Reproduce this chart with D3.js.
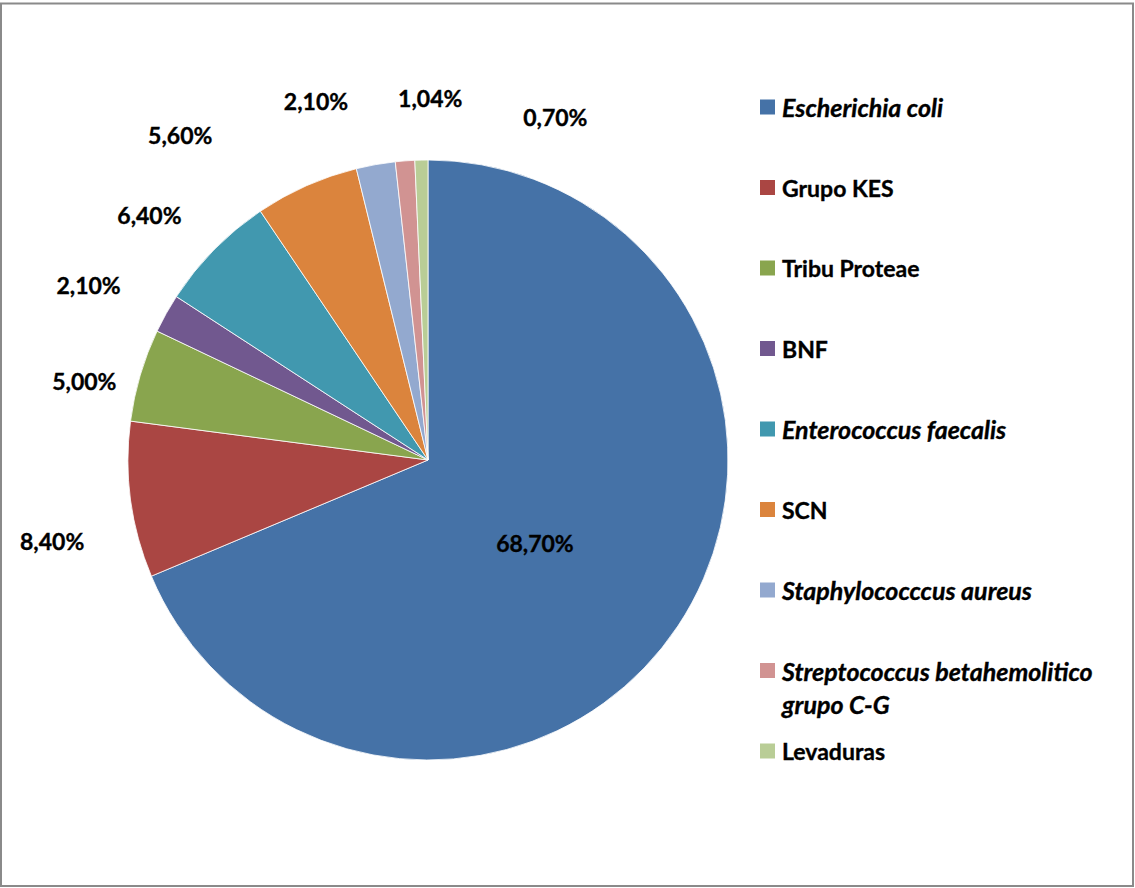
<!DOCTYPE html>
<html>
<head>
<meta charset="utf-8">
<script src="https://cdn.jsdelivr.net/npm/d3@7"></script>
<style>
  html, body { margin: 0; padding: 0; background: #fff; }
  svg { display: block; font-family: Lato, "Open Sans", sans-serif; font-weight: bold; }
</style>
</head>
<body>
<svg id="chart" width="1135" height="888"></svg>
<script>
// Isolates by organism (percentage of total)
const categories = [
  "Escherichia coli", "Grupo KES", "Tribu Proteae", "BNF",
  "Enterococcus faecalis", "SCN", "Staphylococccus aureus",
  "Streptococcus betahemolitico grupo C-G", "Levaduras"
];
const legendLines = [
  ["Escherichia coli"], ["Grupo KES"], ["Tribu Proteae"], ["BNF"],
  ["Enterococcus faecalis"], ["SCN"], ["Staphylococccus aureus"],
  ["Streptococcus betahemolitico", "grupo C-G"], ["Levaduras"]
];
const italicNames = [true, false, false, false, true, false, true, true, false];
const values = [68.70, 8.40, 5.00, 2.10, 6.40, 5.60, 2.10, 1.04, 0.70];
const valueLabels = ["68,70%", "8,40%", "5,00%", "2,10%", "6,40%", "5,60%", "2,10%", "1,04%", "0,70%"];

const colors = ["#4572A7", "#AA4643", "#89A54E", "#71588F", "#4198AF",
                "#DB843D", "#93A9CF", "#D19392", "#B9CD96"];

const svg = d3.select("#chart");

// outer frame
svg.append("rect")
  .attr("x", 1).attr("y", 3.5)
  .attr("width", 1132).attr("height", 882.5)
  .attr("fill", "#fff")
  .attr("stroke", "#8a8a8a")
  .attr("stroke-width", 2);

const cx = 428, cy = 460, radius = 300;

const pie = d3.pie().sort(null).value(d => d)
  .startAngle(0).endAngle(2 * Math.PI);
const arcs = pie(values);
const arc = d3.arc().innerRadius(0).outerRadius(radius);

const g = svg.append("g").attr("transform", `translate(${cx},${cy})`);

g.selectAll("path.slice")
  .data(arcs)
  .join("path")
  .attr("class", "slice")
  .attr("d", arc)
  .attr("fill", (d, i) => colors[i])
  .attr("stroke", "#fff")
  .attr("stroke-width", 0.8)
  .attr("stroke-linejoin", "round");

// data labels: first one sits inside the slice, the rest outside,
// with offsets that keep the small slices' labels apart
const insideArc = d3.arc().innerRadius(0).outerRadius(radius);
const outsideArc = d3.arc().innerRadius(350).outerRadius(350);
const labelShift = [
  [-18, 0], [-29, 34], [-8, 20], [-34, -4], [-29, 0],
  [-106, -5], [-51, -14], [29, -13], [135, 7]
];

g.selectAll("text.val")
  .data(arcs)
  .join("text")
  .attr("class", "val")
  .attr("transform", (d, i) => {
    const p = i === 0 ? insideArc.centroid(d) : outsideArc.centroid(d);
    return `translate(${p[0] + labelShift[i][0]},${p[1] + labelShift[i][1]})`;
  })
  .attr("text-anchor", "middle")
  .attr("dominant-baseline", "central")
  .attr("font-size", 23)
  .attr("fill", "#000")
  .attr("stroke", "#000")
  .attr("stroke-width", 0.35)
  .text((d, i) => valueLabels[i]);

// legend
const legendY = d3.scalePoint()
  .domain(d3.range(categories.length))
  .range([107, 751]);

const legend = svg.append("g").attr("class", "legend");
const items = legend.selectAll("g")
  .data(categories)
  .join("g")
  .attr("transform", (d, i) => `translate(760,${legendY(i)})`);

items.append("rect")
  .attr("x", 0).attr("y", -7.5)
  .attr("width", 15).attr("height", 15)
  .attr("fill", (d, i) => colors[i]);

items.append("text")
  .attr("x", 22)
  .attr("font-size", (d, i) => italicNames[i] ? 25 : 23)
  .attr("font-style", (d, i) => italicNames[i] ? "italic" : "normal")
  .attr("fill", "#000")
  .attr("stroke", "#000")
  .attr("stroke-width", 0.35)
  .each(function (d, i) {
    const t = d3.select(this);
    legendLines[i].forEach((line, k) => {
      t.append("tspan")
        .attr("x", 22)
        .attr("y", k * 33)
        .attr("dominant-baseline", "central")
        .text(line);
    });
  });
</script>
</body>
</html>
